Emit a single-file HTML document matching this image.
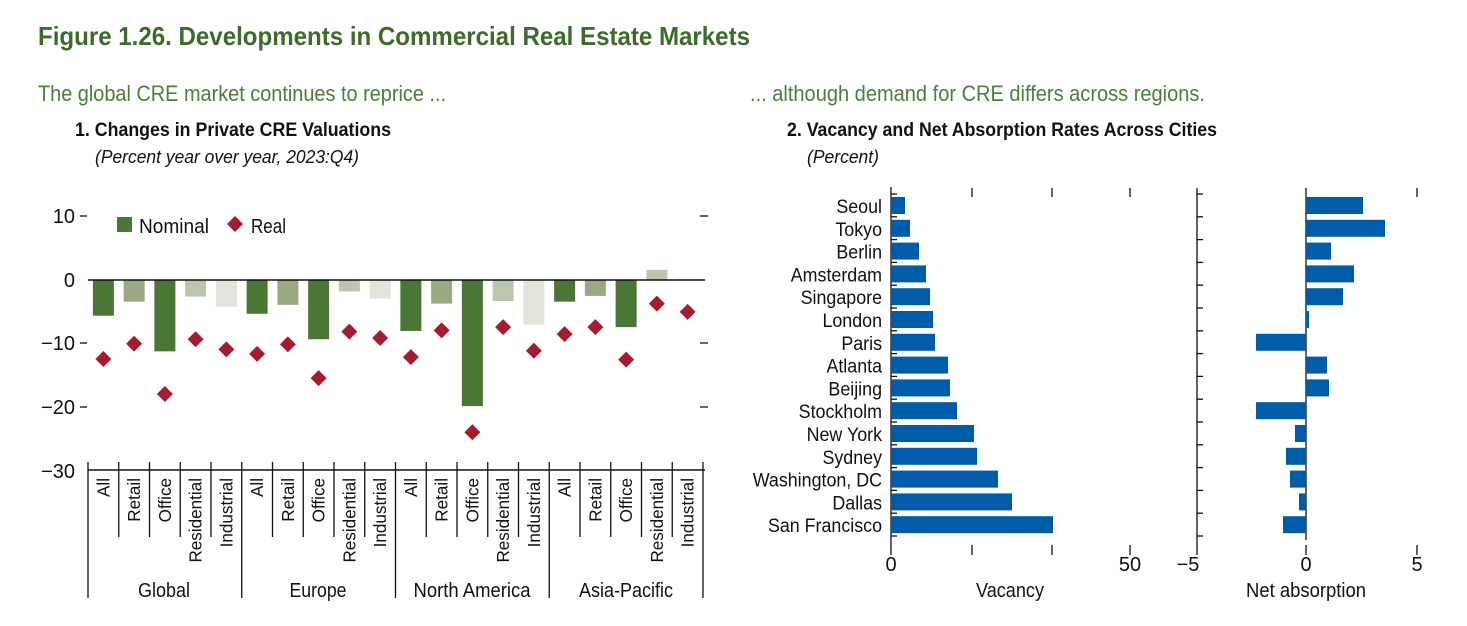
<!DOCTYPE html>
<html><head><meta charset="utf-8"><style>
html,body{margin:0;padding:0;background:#fff;}
svg{display:block;font-family:"Liberation Sans Narrow","Liberation Sans",sans-serif;}
</style></head><body>
<svg width="1467" height="626" viewBox="0 0 1467 626" xmlns="http://www.w3.org/2000/svg">
<text x="38" y="45" font-size="26" font-weight="bold" fill="#3d6b2c" textLength="712" lengthAdjust="spacingAndGlyphs">Figure 1.26. Developments in Commercial Real Estate Markets</text>
<text x="38" y="101" font-size="22" fill="#4e7d3c" textLength="408" lengthAdjust="spacingAndGlyphs">The global CRE market continues to reprice ...</text>
<text x="750" y="101" font-size="22" fill="#4e7d3c" textLength="455" lengthAdjust="spacingAndGlyphs">... although demand for CRE differs across regions.</text>
<text x="75" y="136" font-size="19" font-weight="bold" fill="#111" textLength="316" lengthAdjust="spacingAndGlyphs">1. Changes in Private CRE Valuations</text>
<text x="95" y="163" font-size="18" font-style="italic" fill="#111" textLength="264" lengthAdjust="spacingAndGlyphs">(Percent year over year, 2023:Q4)</text>
<text x="787" y="136" font-size="19" font-weight="bold" fill="#111" textLength="430" lengthAdjust="spacingAndGlyphs">2. Vacancy and Net Absorption Rates Across Cities</text>
<text x="807" y="163" font-size="18" font-style="italic" fill="#111" textLength="72" lengthAdjust="spacingAndGlyphs">(Percent)</text>

<g font-size="20" fill="#111" text-anchor="end">
<text x="75" y="223">10</text><text x="75" y="287">0</text><text x="75" y="350">−10</text><text x="75" y="414">−20</text><text x="75" y="478">−30</text>
</g>
<g stroke="#111" stroke-width="1.3">
<line x1="80" y1="216" x2="87" y2="216"/><line x1="80" y1="343" x2="87" y2="343"/><line x1="80" y1="407" x2="87" y2="407"/>
<line x1="700" y1="216" x2="708" y2="216"/><line x1="700" y1="343" x2="708" y2="343"/><line x1="700" y1="407" x2="708" y2="407"/>
</g>
<rect x="117" y="217" width="15" height="15" fill="#4a7636"/>
<text x="139" y="233" font-size="20" fill="#111" textLength="70" lengthAdjust="spacingAndGlyphs">Nominal</text>
<polygon points="235,216 243,224 235,232 227,224" fill="#a51c30"/>
<text x="251" y="233" font-size="20" fill="#111" textLength="35" lengthAdjust="spacingAndGlyphs">Real</text>
<g id="bars"></g>
<line x1="88" y1="280" x2="705" y2="280" stroke="#111" stroke-width="1.5"/>
<line x1="88" y1="470" x2="705" y2="470" stroke="#111" stroke-width="1.5"/>
<g id="ticksL" stroke="#111" stroke-width="1.3"></g>
<g id="labL" font-size="18" fill="#111"></g>
<g font-size="20" fill="#111" text-anchor="middle">
<text x="164" y="597" textLength="52" lengthAdjust="spacingAndGlyphs">Global</text><text x="318" y="597" textLength="57" lengthAdjust="spacingAndGlyphs">Europe</text><text x="472" y="597" textLength="117" lengthAdjust="spacingAndGlyphs">North America</text><text x="626" y="597" textLength="94" lengthAdjust="spacingAndGlyphs">Asia-Pacific</text>
</g>

<g stroke="#111" stroke-width="1.3">
<line x1="891" y1="187" x2="891" y2="555"/>
<line x1="972" y1="188" x2="972" y2="197"/><line x1="1052" y1="188" x2="1052" y2="197"/><line x1="1130" y1="188" x2="1130" y2="197"/>
<line x1="972" y1="545" x2="972" y2="555"/><line x1="1052" y1="545" x2="1052" y2="555"/><line x1="1130" y1="545" x2="1130" y2="555"/>
<line x1="1197" y1="188" x2="1197" y2="555"/>
<line x1="1306" y1="188" x2="1306" y2="540"/>
<line x1="1306" y1="545" x2="1306" y2="555"/>
<line x1="1417" y1="188" x2="1417" y2="197"/><line x1="1417" y1="545" x2="1417" y2="555"/>
</g>
<g id="ticksR" stroke="#111" stroke-width="1.3"></g>
<g id="barsR"></g>
<g font-size="20" fill="#111" text-anchor="middle">
<text x="891" y="571">0</text><text x="1130" y="571">50</text><text x="1188" y="571">−5</text><text x="1306" y="571">0</text><text x="1417" y="571">5</text>
<text x="1010" y="597" textLength="68" lengthAdjust="spacingAndGlyphs">Vacancy</text><text x="1306" y="597" textLength="120" lengthAdjust="spacingAndGlyphs">Net absorption</text>
</g>
<g id="cities" font-size="19" fill="#111" text-anchor="end"></g>
<script>
var ns="http://www.w3.org/2000/svg";
function el(p,t,a,txt){var e=document.createElementNS(ns,t);for(var k in a)e.setAttribute(k,a[k]);if(txt)e.textContent=txt;document.getElementById(p).appendChild(e);return e;}
var nom=[-5.6,-3.4,-11.2,-2.6,-4.2,-5.3,-3.9,-9.3,-1.8,-2.9,-8,-3.7,-19.8,-3.3,-7,-3.4,-2.5,-7.4,1.6,0.2];
var real=[-12.4,-10,-17.9,-9.3,-10.9,-11.6,-10.1,-15.4,-8.1,-9.1,-12.1,-7.9,-23.9,-7.4,-11.1,-8.5,-7.4,-12.5,-3.7,-5];
var cols=["#4a7636","#9aa982","#4a7636","#bcc5ad","#e3e3dc"];
var names=["All","Retail","Office","Residential","Industrial"];
var w=(703-88)/20;
for(var i=0;i<20;i++){
 var cx=88+w*(i+0.5),v=nom[i],y0=280,y1=280-v*6.37;
 el("bars","rect",{x:cx-10.5,y:Math.min(y0,y1),width:21,height:Math.abs(y1-y0),fill:(i==18?"#bcc5ad":cols[i%5])});
 var ry=280-real[i]*6.37;
 el("bars","polygon",{points:(cx)+","+(ry-8)+" "+(cx+8)+","+ry+" "+cx+","+(ry+8)+" "+(cx-8)+","+ry,fill:"#a51c30"});
 el("labL","text",{x:0,y:0,transform:"translate("+(cx+6)+",478) rotate(-90) scale(0.95,1)","text-anchor":"end"},names[i%5]);
}
for(var i=0;i<=20;i++){var x=88+w*i;el("ticksL","line",{x1:x,y1:462,x2:x,y2:(i%5==0?598:537)});}
var cities=["Seoul","Tokyo","Berlin","Amsterdam","Singapore","London","Paris","Atlanta","Beijing","Stockholm","New York","Sydney","Washington, DC","Dallas","San Francisco"];
var vac=[905,910,919,926,930,933,935,948,950,957,974,977,998,1012,1053];
var na=[1363,1385,1331,1354,1343,1309,1256,1327,1329,1256,1295,1286,1290,1299,1283];
for(var i=0;i<15;i++){
 var y=197+i*22.8;
 el("barsR","rect",{x:891,y:y,width:vac[i]-891,height:17,fill:"#005ca8"});
 el("barsR","rect",{x:Math.min(1306,na[i]),y:y,width:Math.max(1.5,Math.abs(na[i]-1306)),height:17,fill:"#005ca8"});
 el("cities","text",{x:0,y:0,transform:"translate(882,"+(y+16)+") scale(0.94,1)"},cities[i]);
}
for(var i=0;i<=15;i++){var y=197+i*22.8-3;el("ticksR","line",{x1:891,y1:y,x2:897,y2:y});el("ticksR","line",{x1:1197,y1:y,x2:1203,y2:y});}
</script>
</svg>
</body></html>
